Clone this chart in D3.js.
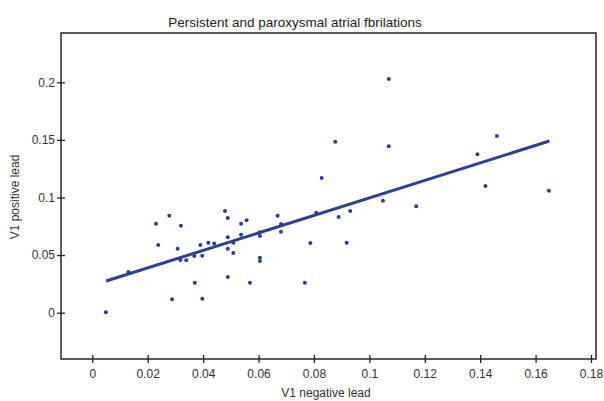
<!DOCTYPE html>
<html>
<head>
<meta charset="utf-8">
<script src="https://cdn.jsdelivr.net/npm/d3@7"></script>
<style>
  body { margin: 0; background: #fff; }
  text { font-family: Arial, "Liberation Sans", sans-serif; fill: #222; }
</style>
</head>
<body>
<div class="chart"></div>
<script>
// V1 negative lead vs V1 positive lead
const xVals = [0.0049, 0.0130, 0.0230, 0.0238, 0.0278, 0.0288, 0.0308, 0.0318, 0.0320, 0.0339,
    0.0368, 0.0370, 0.0390, 0.0397, 0.0397, 0.0419, 0.0440, 0.0479, 0.0489, 0.0489,
    0.0489, 0.0489, 0.0509, 0.0509, 0.0537, 0.0537, 0.0557, 0.0569, 0.0605, 0.0605,
    0.0605, 0.0605, 0.0669, 0.0681, 0.0681, 0.0767, 0.0787, 0.0808, 0.0828, 0.0877,
    0.0889, 0.0918, 0.0931, 0.1049, 0.1070, 0.1070, 0.1169, 0.1390, 0.1419, 0.1460,
    0.1648];
const yVals = [0.0003, 0.0353, 0.0773, 0.0588, 0.0842, 0.0116, 0.0556, 0.0457, 0.0755, 0.0455,
    0.0492, 0.0260, 0.0588, 0.0495, 0.0122, 0.0608, 0.0600, 0.0883, 0.0822, 0.0654,
    0.0556, 0.0310, 0.0608, 0.0518, 0.0773, 0.0677, 0.0802, 0.0260, 0.0698, 0.0666,
    0.0477, 0.0449, 0.0842, 0.0770, 0.0703, 0.0260, 0.0605, 0.0868, 0.1169, 0.1484,
    0.0831, 0.0608, 0.0883, 0.0972, 0.2029, 0.1444, 0.0923, 0.1375, 0.1100, 0.1534,
    0.1059];

// fitted regression line end points
const fitX = [0.005, 0.165];
const fitY = [0.0275, 0.149];

const xTicks = [0, 0.02, 0.04, 0.06, 0.08, 0.1, 0.12, 0.14, 0.16, 0.18];
const yTicks = [0, 0.05, 0.1, 0.15, 0.2];

const width = 604;
const height = 401;
const margin = {top: 33, right: 8, bottom: 42, left: 61};
const color = "#2c3f98";

const svg = d3.select(".chart")
    .append("svg")
    .attr("width", width)
    .attr("height", height);

const x = d3.scaleLinear()
    .domain([-0.0113, 0.1818])
    .range([margin.left, width - margin.right]);

const y = d3.scaleLinear()
    .domain([-0.0402, 0.2428])
    .range([height - margin.bottom, margin.top]);

// frame
svg.append("rect")
    .attr("x", margin.left)
    .attr("y", margin.top)
    .attr("width", width - margin.left - margin.right)
    .attr("height", height - margin.top - margin.bottom)
    .attr("fill", "none")
    .attr("stroke", "#333")
    .attr("stroke-width", 1.6);

const xAxis = svg.append("g")
    .attr("transform", `translate(0,${height - margin.bottom})`)
    .call(d3.axisBottom(x).tickValues(xTicks).tickFormat(d3.format("~g")).tickSize(0).tickPadding(10));
xAxis.select(".domain").remove();
xAxis.selectAll(".tick line").attr("y1", -4).attr("y2", 4).attr("stroke", "#222").attr("stroke-width", 1.3);
xAxis.selectAll("text").style("font-size", "12px").style("fill", "#333");

const yAxis = svg.append("g")
    .attr("transform", `translate(${margin.left},0)`)
    .call(d3.axisLeft(y).tickValues(yTicks).tickFormat(d3.format("~g")).tickSize(0).tickPadding(6));
yAxis.select(".domain").remove();
yAxis.selectAll(".tick line").attr("x1", -4).attr("x2", 4).attr("stroke", "#222").attr("stroke-width", 1.3);
yAxis.selectAll("text").style("font-size", "12px").style("fill", "#333");

// regression line
svg.append("line")
    .attr("x1", x(fitX[0]))
    .attr("y1", y(fitY[0]))
    .attr("x2", x(fitX[1]))
    .attr("y2", y(fitY[1]))
    .attr("stroke", color)
    .attr("stroke-width", 3);

svg.selectAll("circle")
    .data(xVals.map((d, i) => [d, yVals[i]]))
    .join("circle")
    .attr("cx", d => x(d[0]))
    .attr("cy", d => y(d[1]))
    .attr("r", 2)
    .attr("fill", color);

svg.append("text")
    .attr("x", 295)
    .attr("y", 27)
    .attr("text-anchor", "middle")
    .style("font-size", "13.5px")
    .text("Persistent and paroxysmal atrial fbrilations");

svg.append("text")
    .attr("x", 326)
    .attr("y", 397)
    .attr("text-anchor", "middle")
    .style("font-size", "12px")
    .style("fill", "#333")
    .text("V1 negative lead");

svg.append("text")
    .attr("transform", "translate(19,197) rotate(-90)")
    .attr("text-anchor", "middle")
    .style("font-size", "12px")
    .style("fill", "#333")
    .text("V1 positive lead");
</script>
</body>
</html>
